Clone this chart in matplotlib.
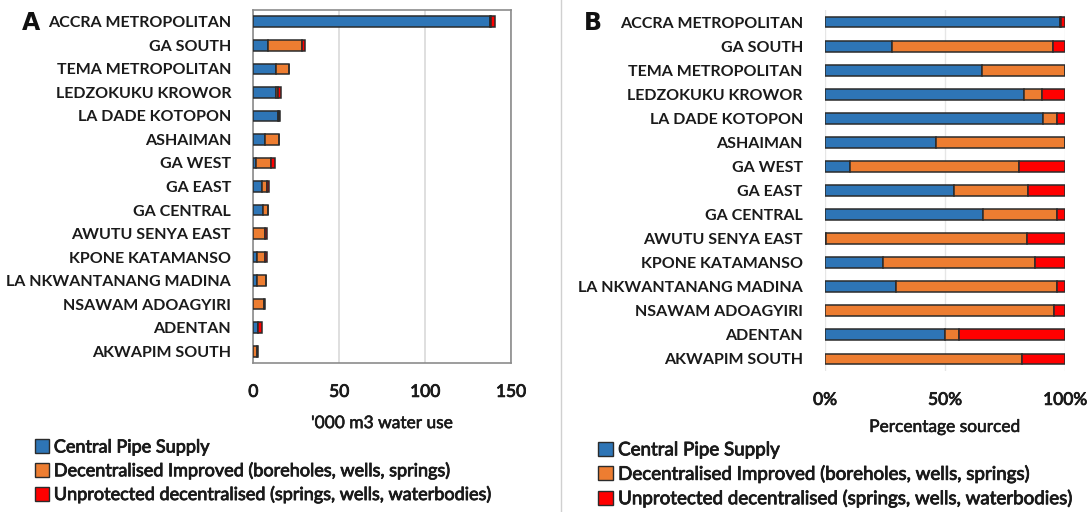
import matplotlib
matplotlib.use("Agg")
import matplotlib.pyplot as plt
import matplotlib.patheffects as pe
import numpy as np
from matplotlib.patches import Patch
from matplotlib.lines import Line2D
from matplotlib.font_manager import FontProperties

districts = ["ACCRA METROPOLITAN", "GA SOUTH", "TEMA METROPOLITAN", "LEDZOKUKU KROWOR",
             "LA DADE KOTOPON", "ASHAIMAN", "GA WEST", "GA EAST", "GA CENTRAL",
             "AWUTU SENYA EAST", "KPONE KATAMANSO", "LA NKWANTANANG MADINA",
             "NSAWAM ADOAGYIRI", "ADENTAN", "AKWAPIM SOUTH"]
# '000 m3 water use by source
central     = [137.9, 8.4, 13.4, 13.2, 14.1, 6.9, 1.3, 4.9, 5.8, 0.03, 1.9, 2.2, 0.0, 2.6, 0.0]
improved    = [0.2, 20.1, 7.1, 1.2, 0.9, 8.0, 8.9, 2.8, 2.7, 6.8, 5.0, 5.0, 6.3, 0.3, 2.05]
unprotected = [2.6, 1.5, 0.0, 1.5, 0.5, 0.0, 2.4, 1.4, 0.3, 1.3, 1.0, 0.25, 0.3, 2.3, 0.45]

series_labels = ["Central Pipe Supply",
                 "Decentralised Improved (boreholes, wells, springs)",
                 "Unprotected decentralised (springs, wells, waterbodies)"]
colors = ["#2E75B6", "#ED7D31", "#FF0000"]
xticks_a = [0, 50, 100, 150]
xticks_b = [0, 0.5, 1.0]
xtick_labels_b = ["0%", "50%", "100%"]

plt.rcParams['font.family'] = ['Lato', 'DejaVu Sans']
EDGE = "#2b2b2b"
TXT = "#1a1a1a"
heavy = [pe.withStroke(linewidth=0.6, foreground=TXT)]

fig = plt.figure(figsize=(10.9, 5.12), dpi=100)
axA = fig.add_axes([0.2324, 0.291, 0.2364, 0.6895])
axB = fig.add_axes([0.7569, 0.2754, 0.2202, 0.705])

y = np.arange(len(districts))
data = [np.array(central), np.array(improved), np.array(unprotected)]
total = data[0] + data[1] + data[2]
pct = [d / total for d in data]

h = 0.45
left = np.zeros(len(districts))
for d, c in zip(data, colors):
    axA.barh(y, d, left=left, height=h, color=c, edgecolor=EDGE, linewidth=1.1, zorder=3)
    left = left + d
left = np.zeros(len(districts))
for d, c in zip(pct, colors):
    axB.barh(y, d, left=left, height=h, color=c, edgecolor=EDGE, linewidth=1.1, zorder=3)
    left = left + d

for ax in (axA, axB):
    ax.set_yticks(y)
    ax.set_yticklabels(districts, fontsize=11.5, fontweight='bold', color=TXT)
    ax.set_ylim(len(districts) - 0.5, -0.5)
    ax.tick_params(axis='both', length=0)
    ax.tick_params(axis='y', pad=16)
    ax.tick_params(axis='x', pad=15, labelsize=12.5, labelcolor=TXT)

axA.set_xlim(0, 150)
axA.set_xticks(xticks_a)
axA.xaxis.grid(True, color="#d9d9d9", linewidth=1.2, zorder=0)
for s in axA.spines.values():
    s.set_color("#8c8c8c")
    s.set_linewidth(1.2)
axA.set_xlabel("'000 m3 water use", fontsize=12.5, color=TXT, labelpad=11)
axA.xaxis.label.set_path_effects([pe.withStroke(linewidth=0.4, foreground=TXT)])
for lab in axA.get_xticklabels():
    lab.set_path_effects(heavy)

axB.set_xlim(0, 1.0)
axB.set_xticks(xticks_b)
axB.set_xticklabels(xtick_labels_b)
axB.xaxis.grid(True, color="#e6e6e6", linewidth=1.0, zorder=0)
for s in axB.spines.values():
    s.set_visible(False)
axB.set_xlabel("Percentage sourced", fontsize=12.5, color=TXT, labelpad=8)
axB.xaxis.label.set_path_effects([pe.withStroke(linewidth=0.4, foreground=TXT)])
for lab in axB.get_xticklabels():
    lab.set_path_effects(heavy)

handles = [Patch(facecolor=c, edgecolor=EDGE, linewidth=1.0) for c in colors]
legA = fig.legend(handles, series_labels, loc='upper left', bbox_to_anchor=(0.032, 0.142),
           bbox_transform=fig.transFigure, frameon=False,
           prop=FontProperties(family=['Lato', 'DejaVu Sans'], size=13),
           handlelength=0.8, handleheight=0.8, handletextpad=0.25, labelspacing=0.40,
           borderpad=0, borderaxespad=0, labelcolor=TXT)
legB = fig.legend(handles, series_labels, loc='upper left', bbox_to_anchor=(0.549, 0.138),
           bbox_transform=fig.transFigure, frameon=False,
           prop=FontProperties(family=['Lato', 'DejaVu Sans'], size=13.5),
           handlelength=0.8, handleheight=0.8, handletextpad=0.25, labelspacing=0.34,
           borderpad=0, borderaxespad=0, labelcolor=TXT)
for leg in (legA, legB):
    for t in leg.get_texts():
        t.set_path_effects(heavy)

fig.text(0.02, 0.955, "A", fontsize=17, fontweight='bold', family='DejaVu Sans', color="#111111", va='center')
fig.text(0.536, 0.955, "B", fontsize=17, fontweight='bold', family='DejaVu Sans', color="#111111", va='center')
fig.add_artist(Line2D([0.515, 0.515], [0.0, 1.0], color="#d0d0d0", linewidth=1.0))

fig.savefig("out.png", dpi=100)
